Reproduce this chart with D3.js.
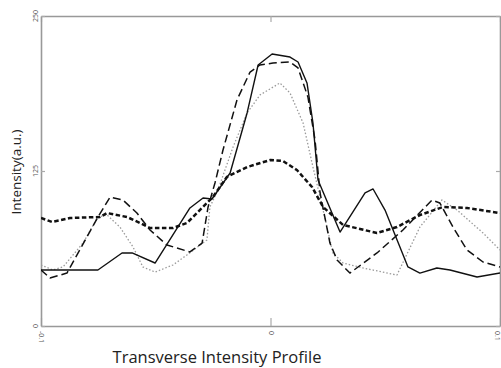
<!DOCTYPE html>
<html>
<head>
<meta charset="utf-8">
<script src="https://cdn.jsdelivr.net/npm/d3@7"></script>
<style>
  body { margin: 0; background: #fff; }
  text { font-family: "Open Sans", sans-serif; }
</style>
</head>
<body>
<script>
// tick labels
var xTicks = [-0.1, 0, 0.1];
var yTicks = [0, 125, 250];

// solid line
var xSolid = [-0.1, -0.0752, -0.0647, -0.0603, -0.0503, -0.0351, -0.0294, -0.0255, -0.0176, -0.0102, -0.0054, 0.0007, 0.0085, 0.0120, 0.0159, 0.0185, 0.0207, 0.0303, 0.0412, 0.0447, 0.0499, 0.0599, 0.0651, 0.0725, 0.0782, 0.0900, 0.1];
var ySolid = [45.2, 45.2, 58.9, 58.9, 50.8, 95.2, 103.2, 102.4, 123.4, 171.8, 210.5, 219.4, 216.9, 212.9, 196.0, 163.7, 117.7, 75.8, 107.3, 110.5, 93.5, 47.6, 42.7, 46.8, 45.2, 39.5, 42.7];

// long dashes
var xDash = [-0.1, -0.0961, -0.0887, -0.0752, -0.0699, -0.0643, -0.0582, -0.0525, -0.0451, -0.0351, -0.0298, -0.0272, -0.0242, -0.0207, -0.0146, -0.0089, -0.0046, 0.0011, 0.0085, 0.0120, 0.0163, 0.0194, 0.0216, 0.0259, 0.0290, 0.0346, 0.0464, 0.0577, 0.0704, 0.0738, 0.0795, 0.0856, 0.0926, 0.1];
var yDash = [45.2, 38.7, 42.7, 87.9, 104.0, 101.6, 91.1, 77.4, 65.3, 59.7, 66.9, 96.0, 115.3, 141.9, 182.3, 204.8, 210.5, 212.1, 212.9, 208.1, 184.7, 150.0, 107.3, 66.9, 53.2, 42.7, 58.9, 77.4, 101.6, 99.2, 79.8, 61.3, 51.6, 47.6];

// heavy short dashes
var xHeavy = [-0.1, -0.0952, -0.0874, -0.0743, -0.0712, -0.0625, -0.0569, -0.0525, -0.0425, -0.0364, -0.0251, -0.0190, -0.0102, 0, 0.0054, 0.0115, 0.0181, 0.0229, 0.0316, 0.0464, 0.0551, 0.0651, 0.0752, 0.0856, 0.1];
var yHeavy = [87.1, 83.9, 87.1, 87.9, 91.1, 87.9, 83.1, 79.0, 79.0, 83.1, 104.0, 120.2, 128.2, 133.9, 133.1, 125.8, 112.1, 96.0, 81.5, 75.0, 79.8, 89.5, 96.0, 95.2, 91.1];

// dotted line
var xDot = [-0.1, -0.0948, -0.0904, -0.0817, -0.0752, -0.0712, -0.0656, -0.0599, -0.0556, -0.0503, -0.0425, -0.0364, -0.0277, -0.0264, -0.0229, -0.0163, -0.0102, -0.0046, 0.0041, 0.0085, 0.0142, 0.0185, 0.0216, 0.0272, 0.0316, 0.0403, 0.0551, 0.0651, 0.0747, 0.0813, 0.0926, 0.1];
var yDot = [49.2, 45.2, 47.6, 66.9, 87.9, 89.5, 79.8, 63.7, 47.6, 43.5, 49.2, 57.3, 69.4, 96.0, 109.7, 144.4, 171.8, 186.3, 196.0, 187.9, 163.7, 128.2, 104.0, 58.9, 50.8, 46.8, 41.1, 79.8, 101.6, 93.5, 75.0, 61.3];

var width = 501, height = 368;
var padLeft = 41, padRight = 500, padTop = 16, padBottom = 326;

var svg = d3.select("body")
    .append("svg")
    .attr("width", width)
    .attr("height", height);

var xScale = d3.scaleLinear().domain([-0.1, 0.1]).range([padLeft, padRight]);
var yScale = d3.scaleLinear().domain([0, 250]).range([padBottom, padTop]);

svg.append("clipPath").attr("id", "plot")
    .append("rect")
    .attr("x", padLeft).attr("y", padTop)
    .attr("width", padRight - padLeft).attr("height", padBottom - padTop);

// frame: axes on all four sides, ticks pointing in
svg.append("g")
    .attr("transform", "translate(0," + padBottom + ")")
    .call(d3.axisTop(xScale).tickValues(xTicks).tickSize(8).tickSizeOuter(0).tickFormat(""));
svg.append("g")
    .attr("transform", "translate(0," + padTop + ")")
    .call(d3.axisBottom(xScale).tickValues(xTicks).tickSize(6).tickSizeOuter(0).tickFormat(""));
svg.append("g")
    .attr("transform", "translate(" + padLeft + ",0)")
    .call(d3.axisRight(yScale).tickValues(yTicks).tickSize(4).tickSizeOuter(0).tickFormat(""));
svg.append("g")
    .attr("transform", "translate(" + padRight + ",0)")
    .call(d3.axisLeft(yScale).tickValues(yTicks).tickSize(4).tickSizeOuter(0).tickFormat(""));

svg.selectAll(".domain").attr("stroke", "#999").attr("stroke-width", 1.6);
svg.selectAll(".tick line").attr("stroke", "#aaa").attr("stroke-width", 1.2);

// tiny rotated tick labels
svg.selectAll(".ylab")
    .data(yTicks)
    .enter()
    .append("text")
    .attr("class", "ylab")
    .attr("transform", function(d) { return "translate(38," + yScale(d) + ") rotate(-90)"; })
    .attr("text-anchor", "middle")
    .attr("font-size", 7)
    .attr("fill", "#555")
    .text(function(d) { return d; });

svg.selectAll(".xlab")
    .data(xTicks)
    .enter()
    .append("text")
    .attr("class", "xlab")
    .attr("transform", function(d) { return "translate(" + Math.min(xScale(d) - 2, width - 6) + ",331) rotate(90)"; })
    .attr("text-anchor", "start")
    .attr("font-size", 7)
    .attr("fill", "#555")
    .text(function(d) { return d; });

// lines
var line = d3.line()
    .x(function(d) { return xScale(d[0]); })
    .y(function(d) { return yScale(d[1]); });

var series = [
    { xs: xDot, ys: yDot, color: "#9a9a9a", w: 1.3, dash: "1.5,2" },
    { xs: xHeavy, ys: yHeavy, color: "#111", w: 2.5, dash: "4.5,2.5" },
    { xs: xDash, ys: yDash, color: "#111", w: 1.5, dash: "8,4" },
    { xs: xSolid, ys: ySolid, color: "#111", w: 1.4, dash: null }
];

series.forEach(function(s) {
    svg.append("path")
        .datum(d3.zip(s.xs, s.ys))
        .attr("clip-path", "url(#plot)")
        .attr("fill", "none")
        .attr("stroke", s.color)
        .attr("stroke-width", s.w)
        .attr("stroke-dasharray", s.dash)
        .attr("stroke-linejoin", "round")
        .attr("d", line);
});

// axis titles
svg.append("text")
    .attr("x", 217)
    .attr("y", 363)
    .attr("text-anchor", "middle")
    .attr("font-size", 16.5)
    .attr("fill", "#222")
    .text("Transverse Intensity Profile");

svg.append("text")
    .attr("transform", "translate(21,172) rotate(-90)")
    .attr("text-anchor", "middle")
    .attr("font-size", 13.5)
    .attr("fill", "#222")
    .text("Intensity(a.u.)");
</script>
</body>
</html>
